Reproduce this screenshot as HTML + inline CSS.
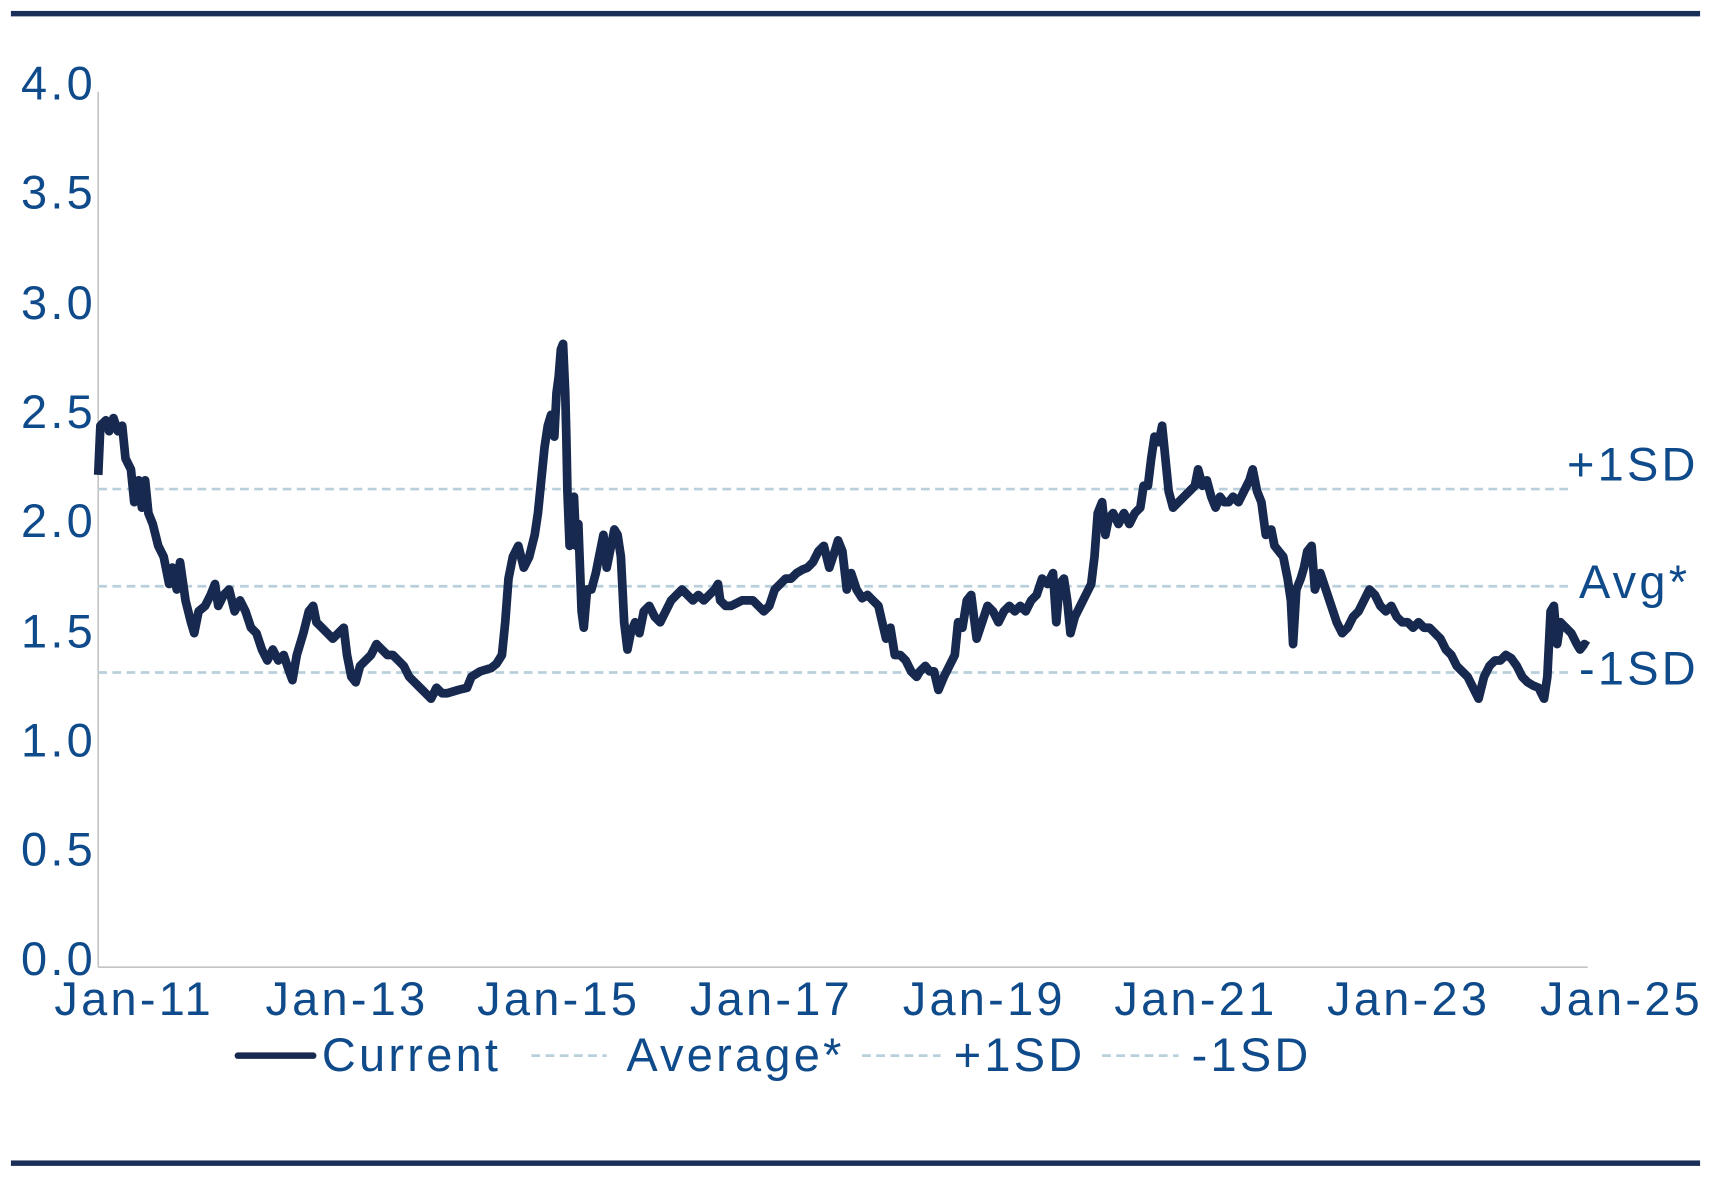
<!DOCTYPE html>
<html><head><meta charset="utf-8"><style>
html,body{margin:0;padding:0;background:#fff;}
svg{display:block;}
text{font-family:"Liberation Sans",sans-serif;fill:#0f4a8a;font-size:43px;letter-spacing:3px;}
</style></head><body>
<svg width="1711" height="1179" viewBox="0 0 1568 1080" preserveAspectRatio="none" xmlns="http://www.w3.org/2000/svg">
<rect x="10" y="10" width="1548" height="5" fill="#1a2f57"/>
<rect x="10" y="1063" width="1548" height="5" fill="#1a2f57"/>
<line x1="90" y1="84" x2="90" y2="886" stroke="#c4c4c4" stroke-width="1.5"/>
<line x1="90" y1="886" x2="1455" y2="886" stroke="#c4c4c4" stroke-width="1.5"/>
<g stroke="#b9d0dc" stroke-width="2.5" stroke-dasharray="8,5">
<line x1="90" y1="448" x2="1440" y2="448"/>
<line x1="90" y1="537" x2="1440" y2="537"/>
<line x1="90" y1="616" x2="1440" y2="616"/>
</g>
<g text-anchor="end">
<text x="88" y="91">4.0</text><text x="88" y="191">3.5</text><text x="88" y="292">3.0</text>
<text x="88" y="392">2.5</text><text x="88" y="492">2.0</text><text x="88" y="593">1.5</text>
<text x="88" y="693">1.0</text><text x="88" y="793">0.5</text><text x="88" y="893">0.0</text>
</g>
<g text-anchor="middle">
<text x="123" y="930">Jan-11</text><text x="318" y="930">Jan-13</text><text x="512" y="930">Jan-15</text>
<text x="707" y="930">Jan-17</text><text x="902" y="930">Jan-19</text><text x="1096" y="930">Jan-21</text>
<text x="1291" y="930">Jan-23</text><text x="1486" y="930">Jan-25</text>
</g>
<text x="1436" y="440">+1SD</text>
<text x="1447" y="548">Avg*</text>
<text x="1447" y="627">-1SD</text>
<polyline fill="none" stroke="#17294e" stroke-width="8" stroke-linejoin="round" points="90,435 92,390 97,385 100,395 104,383 108,395 112,390 115,420 120,430 123,460 127,440 130,465 133,440 136,470 140,480 145,500 150,510 155,535 158,520 162,540 165,515 170,550 175,570 178,580 182,560 188,555 193,545 197,535 200,555 205,545 210,540 215,560 220,550 225,560 230,575 235,580 240,595 245,605 250,595 255,605 260,600 265,615 268,623 272,600 278,580 283,560 287,555 290,570 295,575 300,580 305,585 310,580 315,575 318,600 322,620 326,625 330,610 335,605 340,600 345,590 350,595 355,600 360,600 365,605 370,610 375,620 380,625 385,630 390,635 395,640 400,630 405,635 410,635 420,632 428,630 432,620 440,615 450,612 455,608 460,600 463,570 466,530 470,510 475,500 480,520 485,510 490,490 493,470 496,440 499,410 502,390 505,380 508,400 510,360 512,345 514,320 516,315 518,360 519,400 520,450 522,500 524,470 526,455 528,500 530,480 533,560 535,575 538,540 542,540 546,525 550,505 553,490 556,520 560,500 563,485 566,490 569,510 572,570 575,595 578,580 582,570 586,580 590,560 595,555 600,565 605,570 610,560 615,550 620,545 625,540 630,545 635,550 640,545 645,550 650,545 655,540 658,535 660,550 665,555 670,555 680,550 690,550 700,560 705,555 710,540 715,535 720,530 725,530 730,525 735,522 740,520 745,515 750,505 755,500 760,520 765,505 768,495 772,505 776,540 780,525 785,540 790,548 795,545 800,550 805,555 808,568 812,585 816,575 820,600 825,600 830,605 835,615 840,620 843,615 848,610 852,615 856,615 860,632 865,620 870,610 875,600 878,570 882,575 886,550 890,545 895,585 900,570 905,555 910,560 915,570 920,560 925,555 930,560 935,555 940,560 945,550 950,545 955,530 960,535 965,525 968,570 971,535 975,530 978,550 981,580 985,565 990,555 995,545 1000,535 1003,510 1006,470 1010,460 1013,490 1016,475 1020,470 1025,480 1030,470 1035,480 1040,470 1045,465 1048,445 1052,445 1055,420 1058,400 1062,405 1065,390 1068,420 1071,450 1075,465 1080,460 1085,455 1090,450 1095,445 1098,430 1102,445 1106,440 1110,455 1114,465 1118,455 1122,460 1126,460 1130,455 1135,460 1140,450 1145,440 1148,430 1152,450 1156,460 1160,490 1165,485 1168,500 1172,505 1176,510 1180,530 1183,550 1185,590 1188,540 1192,530 1195,520 1198,505 1202,500 1205,540 1210,525 1215,540 1220,555 1225,570 1230,580 1235,575 1240,565 1245,560 1250,550 1255,540 1260,545 1265,555 1270,560 1275,555 1280,565 1285,570 1290,570 1295,575 1300,570 1305,575 1310,575 1315,580 1320,585 1325,595 1330,600 1335,610 1340,615 1345,620 1350,630 1355,640 1360,620 1365,610 1370,605 1375,605 1380,600 1385,603 1390,610 1395,620 1400,625 1405,628 1410,630 1415,640 1418,620 1421,560 1424,555 1427,590 1430,570 1435,575 1440,580 1445,590 1448,595 1452,590 1455,592"/>
<line x1="218" y1="967" x2="287" y2="967" stroke="#17294e" stroke-width="6" stroke-linecap="round"/>
<text x="295" y="981">Current</text>
<g stroke="#b9d0dc" stroke-width="2.5" stroke-dasharray="8,5">
<line x1="487" y1="967" x2="556" y2="967"/>
<line x1="790" y1="967" x2="862" y2="967"/>
<line x1="1010" y1="967" x2="1080" y2="967"/>
</g>
<text x="574" y="981">Average*</text>
<text x="874" y="981">+1SD</text>
<text x="1092" y="981">-1SD</text>
</svg>
</body></html>
